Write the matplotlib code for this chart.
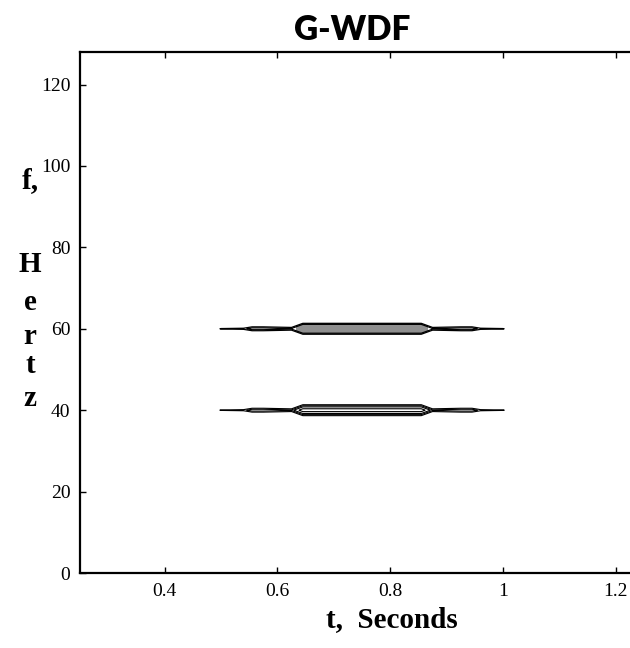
import matplotlib.pyplot as plt
import numpy as np

# components of the signal (Hz) and whether the core is shaded
comp_freqs = [40, 60]
comp_shaded = [False, True]

# strength envelope along time
env_t = [0.495, 0.50, 0.54, 0.555, 0.575, 0.60, 0.625, 0.645, 0.855, 0.875, 0.90, 0.925, 0.945, 0.96, 1.0, 1.005]
env_a = [0.00, 0.08, 0.14, 0.38, 0.38, 0.33, 0.28, 1.00, 1.00, 0.28, 0.33, 0.38, 0.38, 0.14, 0.08, 0.00]
spread_hz = 1.4
line_levels = [0.04, 0.22, 0.42, 0.75]
shaded_levels = [0.04, 0.22]

xticks = [0.4, 0.6, 0.8, 1.0, 1.2]
xticklabels = ['0.4', '0.6', '0.8', '1', '1.2']
yticks = [0, 20, 40, 60, 80, 100, 120]
ylabel_letters = ['f,', 'H', 'e', 'r', 't', 'z']
ylabel_ypix = [181, 265, 302, 336, 366, 398]

t = np.linspace(0.25, 1.25, 1600)
f = np.linspace(0, 128, 4000)
T, F = np.meshgrid(t, f)
amp = np.interp(t, env_t, env_a)[None, :]

fig = plt.figure(figsize=(6.3, 6.48), dpi=100)
ax = fig.add_axes([80/630, 75/648, 550/630, 521/648])

for f0, shaded in zip(comp_freqs, comp_shaded):
    z = np.clip(amp - np.abs(F - f0) / spread_hz, 0, None)
    if shaded:
        # only the strong central part is shaded
        zf = np.where(amp >= 0.6, z, 0)
        ax.contourf(T, F, zf, levels=[0.12, 2], colors=['#8f8f8f'])
        ax.contour(T, F, z, levels=shaded_levels, colors='black', linewidths=0.9)
    else:
        ax.contour(T, F, z, levels=line_levels, colors='black', linewidths=0.8)

ax.set_xlim(0.25, 1.225)
ax.set_ylim(0, 128)
ax.set_xticks(xticks)
ax.set_xticklabels(xticklabels)
ax.set_yticks(yticks)
ax.tick_params(direction='in', top=True, length=4, width=1, labelsize=14, pad=7)
ax.spines['right'].set_visible(False)
for s in ['left', 'bottom', 'top']:
    ax.spines[s].set_linewidth(1.6)
for lab in ax.get_xticklabels() + ax.get_yticklabels():
    lab.set_family('Liberation Serif')

fig.text(352/630, 1 - 30/648, 'G-WDF', ha='center', va='center',
         fontsize=24, fontweight='heavy', family='Lato')
fig.text(392/630, 1 - 620/648, 't,  Seconds', ha='center', va='center',
         fontsize=21, fontweight='bold', family='Liberation Serif')
for letter, yp in zip(ylabel_letters, ylabel_ypix):
    fig.text(30/630, 1 - yp/648, letter, ha='center', va='center',
             fontsize=21, fontweight='bold', family='Liberation Serif')

fig.savefig('out.png', dpi=100)
